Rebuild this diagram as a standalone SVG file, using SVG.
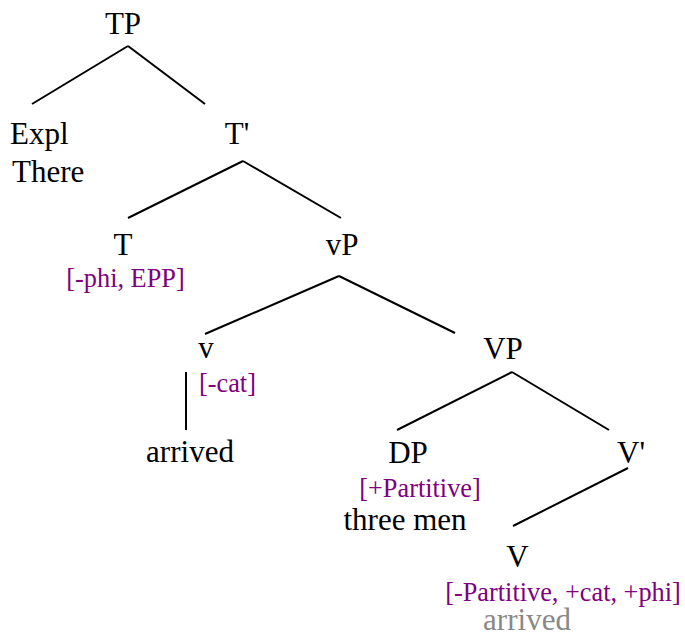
<svg xmlns="http://www.w3.org/2000/svg" width="685" height="637" viewBox="0 0 685 637">
<style>
.n{font-family:"Liberation Serif","Times New Roman",serif;font-size:31px;fill:#000;text-anchor:middle}
.f{font-family:"Liberation Serif","Times New Roman",serif;font-size:26.3px;fill:#800080;text-anchor:middle}
.g{fill:#888888}
.e{stroke:#000;stroke-width:2;fill:none}
</style>
<rect width="685" height="637" fill="#fff"/>
<g id="connectors">
<line class="e" x1="128" y1="46" x2="32" y2="104"/>
<line class="e" x1="128" y1="46" x2="205" y2="104"/>
<line class="e" x1="243" y1="161" x2="128" y2="218"/>
<line class="e" x1="243" y1="161" x2="341" y2="218"/>
<line class="e" x1="339" y1="276" x2="205" y2="334"/>
<line class="e" x1="339" y1="276" x2="455" y2="333"/>
<line class="e" x1="186" y1="372" x2="186" y2="430"/>
<line class="e" x1="512" y1="372" x2="397" y2="430"/>
<line class="e" x1="512" y1="372" x2="609" y2="430"/>
<line class="e" x1="628" y1="468" x2="513" y2="526"/>
</g>
<g id="TP"><text class="n" x="123" y="34">TP</text></g>
<g id="Expl"><text class="n" x="10" y="144" style="text-anchor:start">Expl</text><text class="n" x="12" y="182" style="text-anchor:start">There</text></g>
<g id="Tbar"><text class="n" x="237" y="144">T'</text></g>
<g id="T"><text class="n" x="123" y="255">T</text><text class="f" x="125.5" y="287">[-phi, EPP]</text></g>
<g id="vP"><text class="n" x="342" y="255">vP</text></g>
<g id="v"><text class="n" x="206" y="358">v</text><text class="f" x="199" y="392" style="text-anchor:start">[-cat]</text><text class="n" x="190" y="462">arrived</text></g>
<g id="VP"><text class="n" x="503" y="359">VP</text></g>
<g id="DP"><text class="n" x="408" y="463">DP</text><text class="f" x="420" y="497">[+Partitive]</text><text class="n" x="405" y="530">three men</text></g>
<g id="Vbar"><text class="n" x="631" y="463">V'</text></g>
<g id="V"><text class="n" x="517.5" y="567">V</text><text class="f" x="563" y="601">[-Partitive, +cat, +phi]</text><text class="n g" x="527" y="630">arrived</text></g>
</svg>
